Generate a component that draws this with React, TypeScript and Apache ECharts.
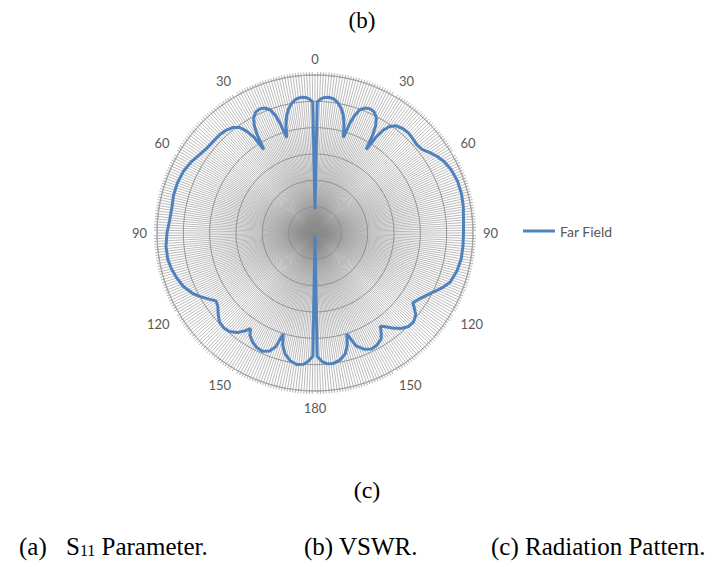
import React, { useEffect, useRef } from "react";
import * as echarts from "echarts";

// Far-field radiation pattern, angle in degrees clockwise from top, gain in dB
const angleRight: number[] = [
  0, 1, 2.5, 4, 6, 8, 10, 12, 13.5, 15, 16.5, 17.5, 18.5, 20, 22, 24, 26, 28, 29.5, 30.5, 31.5, 32.5, 33.5, 35, 37, 40,
  43, 46, 49, 52, 55, 58, 61, 65, 70, 75, 80, 85, 90, 95, 100, 105, 110, 113, 116, 119, 122, 125.5, 127, 129, 132, 135,
  138, 141, 143.5, 145, 146.5, 148, 151, 154, 157, 160, 162.5, 164, 166, 169, 172, 175, 177, 179, 180,
];
const gainRight: number[] = [
  -25.5, -5.1, -4.5, -4.2, -4.1, -4.3, -4.9, -5.9, -7.0, -8.7, -11.1, -8.4, -6.6, -5.1, -4.4, -4.2, -4.4, -5.2, -6.6,
  -8.4, -11.4, -8.4, -6.6, -5.3, -4.5, -4.1, -4.0, -4.2, -4.4, -4.2, -3.4, -2.6, -2.0, -1.5, -1.2, -1.2, -1.4, -1.7,
  -1.8, -1.8, -1.8, -2.1, -2.7, -3.6, -4.7, -5.7, -6.5, -7.2, -6.4, -5.4, -4.8, -4.9, -5.6, -6.8, -7.9, -8.4, -7.2,
  -6.3, -5.7, -5.5, -6.0, -7.2, -9.9, -7.8, -6.3, -5.4, -5.0, -5.1, -5.6, -6.6, -29.4,
];
const angleLeft: number[] = [
  181, 183, 185, 188, 191, 194, 196, 197.5, 199, 201, 204, 207, 210, 212.5, 214, 215.5, 218, 221, 224, 227, 230, 233,
  235.5, 238, 241, 244, 248, 252, 256, 260, 265, 270, 275, 280, 285, 290, 295, 300, 304, 308, 312, 316, 319, 322,
  324.5, 326, 327.5, 328.5, 329.5, 330.5, 332, 334, 336, 338, 340, 341.5, 342.5, 343.5, 345, 346.5, 348, 350, 352, 354,
  356, 357.5, 359, 360,
];
const gainLeft: number[] = [
  -6.6, -5.6, -5.0, -4.8, -5.3, -6.4, -7.8, -9.9, -7.2, -6.0, -5.4, -5.6, -6.2, -7.0, -8.1, -7.2, -6.0, -5.2, -5.0,
  -5.2, -6.0, -6.9, -7.2, -6.3, -5.1, -4.0, -3.0, -2.4, -1.9, -1.6, -1.6, -1.9, -2.3, -2.4, -2.2, -2.2, -2.4, -2.9,
  -3.5, -3.9, -4.0, -4.0, -4.2, -4.6, -5.4, -6.6, -8.4, -11.4, -8.4, -6.6, -5.2, -4.4, -4.2, -4.4, -5.1, -6.6, -8.4,
  -11.1, -8.7, -7.0, -5.9, -4.9, -4.3, -4.1, -4.2, -4.5, -5.1, -25.5,
];
const radiusMin = -30;
const radiusMax = 0;
const radiusStep = 5;
const angleStep = 30;
const seriesName = "Far Field";
const topLabel = "(b)";
const subLabel = "(c)";
const captionA = "(a)";
const captionS = "{s|S}{sub|11}{s| Parameter.}";
const captionB = "(b) VSWR.";
const captionC = "(c) Radiation Pattern.";

export default function App() {
  const ref = useRef<HTMLDivElement>(null);
  useEffect(() => {
    if (!ref.current) return;
    const chart = echarts.init(ref.current, null, { renderer: "svg" });
    const angles = angleRight.concat(angleLeft);
    const gains = gainRight.concat(gainLeft);
    const data = angles.map((a, i) => [gains[i], a]);
    const serif = "'Liberation Serif', 'DejaVu Serif', serif";
    const sans = "Lato, 'Open Sans', sans-serif";
    chart.setOption({
      animation: false,
      backgroundColor: "#ffffff",
      polar: { center: [315, 233], radius: 158 },
      angleAxis: {
        type: "value",
        min: 0,
        max: 360,
        interval: angleStep,
        startAngle: 90,
        clockwise: true,
        axisLine: { show: true, lineStyle: { color: "#a6a6a6", width: 1 } },
        axisTick: { show: false },
        minorTick: { show: true, splitNumber: 30, length: 3, lineStyle: { color: "#b0b0b0" } },
        axisLabel: {
          margin: 10,
          fontSize: 13,
          color: "#595959",
          fontFamily: sans,
          formatter: (v: number) => String(v <= 180 ? v : 360 - v),
        },
        splitLine: { show: true, lineStyle: { color: "#8c8c8c", width: 0.6 } },
        minorSplitLine: { show: true, lineStyle: { color: "#8c8c8c", width: 0.6 } },
      },
      radiusAxis: {
        type: "value",
        min: radiusMin,
        max: radiusMax,
        interval: radiusStep,
        axisLine: { show: false },
        axisTick: { show: false },
        axisLabel: { show: false },
        splitLine: { show: true, lineStyle: { color: "#7f7f7f", width: 0.8 } },
      },
      legend: {
        left: 523,
        top: 224,
        padding: 0,
        icon: "rect",
        itemWidth: 32,
        itemHeight: 3,
        textStyle: { fontSize: 14, color: "#595959", fontFamily: sans },
        data: [seriesName],
      },
      series: [
        {
          name: seriesName,
          type: "line",
          coordinateSystem: "polar",
          data,
          symbol: "none",
          lineStyle: { color: "#4f81bd", width: 3 },
          itemStyle: { color: "#4f81bd" },
        },
      ],
      graphic: [
        {
          type: "text",
          x: 362,
          y: 20,
          style: { text: topLabel, font: `23px ${serif}`, fill: "#000", align: "center", verticalAlign: "middle" },
        },
        {
          type: "text",
          x: 367,
          y: 490,
          style: { text: subLabel, font: `24px ${serif}`, fill: "#000", align: "center", verticalAlign: "middle" },
        },
        {
          type: "text",
          x: 19,
          y: 546,
          style: { text: captionA, font: `25px ${serif}`, fill: "#000", verticalAlign: "middle" },
        },
        {
          type: "text",
          x: 66,
          y: 546,
          style: {
            text: captionS,
            font: `25px ${serif}`,
            fill: "#000",
            verticalAlign: "middle",
            rich: {
              s: { fontSize: 25, fontFamily: serif, fill: "#000" },
              sub: { fontSize: 16, fontFamily: serif, fill: "#000", padding: [9, 0, 0, 0] },
            },
          },
        },
        {
          type: "text",
          x: 304,
          y: 546,
          style: { text: captionB, font: `25px ${serif}`, fill: "#000", verticalAlign: "middle" },
        },
        {
          type: "text",
          x: 491,
          y: 546,
          style: { text: captionC, font: `25px ${serif}`, fill: "#000", verticalAlign: "middle" },
        },
      ],
    });
    return () => chart.dispose();
  }, []);
  return <div ref={ref} style={{ position: "fixed", left: 0, top: 0, width: 723, height: 567 }} />;
}
